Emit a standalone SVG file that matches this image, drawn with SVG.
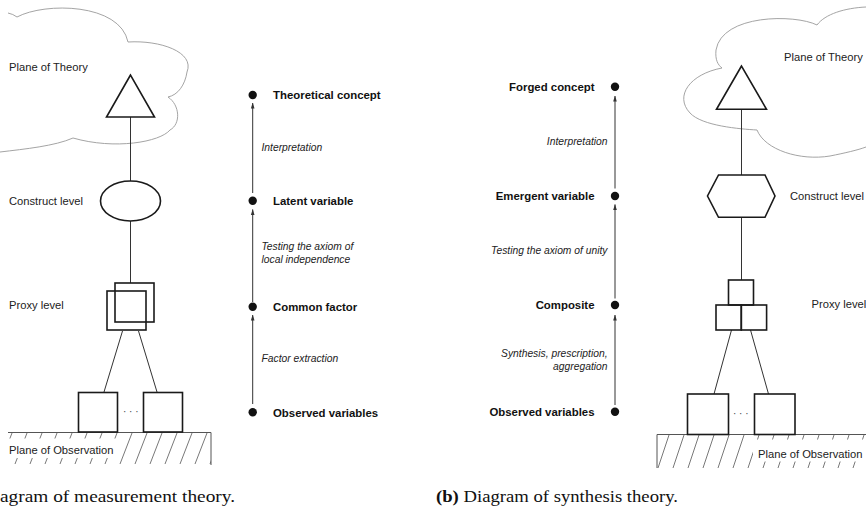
<svg xmlns="http://www.w3.org/2000/svg" width="866" height="510" viewBox="0 0 866 510">
<style>
.cloud{fill:none;stroke:#9a9a9a;stroke-width:0.9}
.shape{fill:none;stroke:#1a1a1a;stroke-width:1.6}
.conn{fill:none;stroke:#333;stroke-width:1}
.arr{fill:none;stroke:#333;stroke-width:1}
.dot{fill:#111}
.lvl{font-family:"Liberation Sans",Arial,sans-serif;font-size:11.2px;fill:#222}
.bold{font-family:"Liberation Sans",Arial,sans-serif;font-size:11.4px;font-weight:bold;fill:#111}
.ital{font-family:"Liberation Sans",Arial,sans-serif;font-size:10.3px;font-style:italic;fill:#222}
.hatch{fill:none;stroke:#555;stroke-width:0.8}
.ground{fill:none;stroke:#555;stroke-width:1}
.cap{font-family:"Liberation Serif","Times New Roman",serif;font-size:17px;fill:#111}
.dots{font-family:"Liberation Sans",Arial,sans-serif;font-size:10px;fill:#444}
</style>
<defs>
<marker id="ah" viewBox="0 0 6 6" refX="5.5" refY="3" markerWidth="6" markerHeight="6" markerUnits="userSpaceOnUse" orient="auto">
<path d="M0,1.2 L6,3 L0,4.8 Z" fill="#333"/>
</marker>
<clipPath id="clipL"><rect x="8" y="432" width="203" height="33"/></clipPath>
<clipPath id="clipR"><rect x="657" y="434" width="209" height="35"/></clipPath>
</defs>

<rect width="866" height="510" fill="#fff"/>

<!-- Panel (a) -->
<g id="cloud-a">
<path class="cloud" d="M8,13 Q13,14 17,17 C45,2 120,3 128,42 C160,40 195,52 187,72 C185,85 178,95 168,97 C180,105 181,124 170,130 C160,142 115,150 73,138 C55,146 25,149 0,152"/>
<text class="lvl" x="9" y="71">Plane of Theory</text>
</g>
<g id="ground-a">
<g clip-path="url(#clipL)">
<path class="hatch" d="M0,464 L12,433 M15,464 L27,433 M30,464 L42,433 M45,464 L57,433 M60,464 L72,433 M75,464 L87,433 M90,464 L102,433 M105,464 L117,433 M120,464 L132,433 M135,464 L147,433 M150,464 L162,433 M165,464 L177,433 M180,464 L192,433 M195,464 L207,433 M210,464 L222,433"/>
</g>
<rect x="6" y="438.5" width="112" height="19.5" fill="#fff"/>
<path class="ground" d="M8,432.5 L211,432.5 L211,465"/>
<text class="lvl" x="9" y="454">Plane of Observation</text>
</g>

<g id="connectors-a">
<line class="conn" x1="130.5" y1="117" x2="130.5" y2="181"/>
<line class="conn" x1="130.5" y1="221" x2="130.5" y2="283"/>
<line class="conn" x1="122.5" y1="331" x2="104" y2="392"/>
<line class="conn" x1="138.5" y1="331" x2="157" y2="392"/>
</g>

<g id="theoretical-a">
<polygon class="shape" points="130.5,75 106.5,117 154.5,117"/>
</g>
<g id="latent-a">
<ellipse class="shape" cx="130.5" cy="201" rx="30" ry="20"/>
<text class="lvl" x="9" y="205">Construct level</text>
</g>
<g id="proxy-a">
<rect class="shape" x="115" y="283" width="39" height="39"/>
<rect class="shape" x="107" y="291" width="39" height="39"/>
<text class="lvl" x="9" y="309">Proxy level</text>
</g>
<g id="observed-a">
<rect class="shape" x="78.5" y="392.5" width="39" height="39.5"/>
<rect class="shape" x="143.5" y="392.5" width="39" height="39.5"/>
<text class="dots" x="123" y="415">· · ·</text>
</g>

<g id="levels-a">
<circle class="dot" cx="252.7" cy="95" r="4.2"/>
<circle class="dot" cx="252.7" cy="200.7" r="4.2"/>
<circle class="dot" cx="252.7" cy="306.7" r="4.2"/>
<circle class="dot" cx="252.7" cy="412.3" r="4.2"/>
<text class="bold" x="273" y="99">Theoretical concept</text>
<text class="bold" x="273" y="205">Latent variable</text>
<text class="bold" x="273" y="311">Common factor</text>
<text class="bold" x="273" y="416.5">Observed variables</text>
<text class="ital" x="261.5" y="151">Interpretation</text>
<text class="ital" x="261.5" y="249.5">Testing the axiom of</text>
<text class="ital" x="261.5" y="263">local independence</text>
<text class="ital" x="261.5" y="362">Factor extraction</text>
</g>
<g id="arrows-a">
<line class="arr" x1="252.7" y1="404" x2="252.7" y2="315" marker-end="url(#ah)"/>
<line class="arr" x1="252.7" y1="302" x2="252.7" y2="209.5" marker-end="url(#ah)"/>
<line class="arr" x1="252.7" y1="193" x2="252.7" y2="103" marker-end="url(#ah)"/>
</g>

<text class="cap" x="0" y="502" textLength="235" lengthAdjust="spacingAndGlyphs">agram of measurement theory.</text>

<!-- Panel (b) -->
<g id="cloud-b">
<path class="cloud" d="M866,7 C845,8 825,14 817,25 C795,14 722,14 716,50 C715,60 718,65 722,68 C690,74 674,96 690,113 C702,126 740,129 757,130 C765,150 800,161 830,156 C845,153 858,150 866,147"/>
<text class="lvl" x="784" y="61">Plane of Theory</text>
</g>
<g id="ground-b">
<g clip-path="url(#clipR)">
<path class="hatch" d="M658,468 L669,435 M673,468 L684,435 M688,468 L699,435 M703,468 L714,435 M718,468 L729,435 M733,468 L744,435 M748,468 L759,435 M763,468 L774,435 M778,468 L789,435 M793,468 L804,435 M808,468 L819,435 M823,468 L834,435 M838,468 L849,435 M853,468 L864,435 M868,468 L879,435"/>
</g>
<rect x="753" y="439.5" width="113" height="22" fill="#fff"/>
<path class="ground" d="M657,468 L657,434.5 L866,434.5"/>
<text class="lvl" x="758" y="457.5">Plane of Observation</text>
</g>

<g id="connectors-b">
<line class="conn" x1="741.5" y1="109" x2="741.5" y2="175"/>
<line class="conn" x1="741.5" y1="217" x2="741.5" y2="280"/>
<line class="conn" x1="731.5" y1="330" x2="714" y2="394"/>
<line class="conn" x1="750.5" y1="330" x2="768.5" y2="394"/>
</g>

<g id="forged-b">
<polygon class="shape" points="741.5,66 716.5,109.3 766.5,109.3"/>
</g>
<g id="emergent-b">
<polygon class="shape" points="718.5,175 765,175 775,196 765,217.3 718.5,217.3 707.5,196"/>
<text class="lvl" x="790" y="200">Construct level</text>
</g>
<g id="composite-b">
<rect class="shape" x="728.5" y="280" width="25" height="25"/>
<rect class="shape" x="716" y="305" width="25.3" height="25"/>
<rect class="shape" x="741.3" y="305" width="25.3" height="25"/>
<text class="lvl" x="811.5" y="308">Proxy level</text>
</g>
<g id="observed-b">
<rect class="shape" x="687.5" y="394" width="41" height="40.5"/>
<rect class="shape" x="754.5" y="394" width="40.5" height="40.5"/>
<text class="dots" x="733" y="417">· · ·</text>
</g>

<g id="levels-b">
<circle class="dot" cx="615" cy="86.7" r="4.2"/>
<circle class="dot" cx="615" cy="196" r="4.2"/>
<circle class="dot" cx="615" cy="305" r="4.2"/>
<circle class="dot" cx="615" cy="411.7" r="4.2"/>
<text class="bold" x="594.5" y="90.5" text-anchor="end">Forged concept</text>
<text class="bold" x="594.5" y="200" text-anchor="end">Emergent variable</text>
<text class="bold" x="594.5" y="309" text-anchor="end">Composite</text>
<text class="bold" x="594.5" y="415.5" text-anchor="end">Observed variables</text>
<text class="ital" x="607.5" y="144.5" text-anchor="end">Interpretation</text>
<text class="ital" x="607.5" y="253.5" text-anchor="end">Testing the axiom of unity</text>
<text class="ital" x="607.5" y="356.5" text-anchor="end">Synthesis, prescription,</text>
<text class="ital" x="607.5" y="369.5" text-anchor="end">aggregation</text>
</g>
<g id="arrows-b">
<line class="arr" x1="615" y1="405" x2="615" y2="315" marker-end="url(#ah)"/>
<line class="arr" x1="615" y1="298.5" x2="615" y2="204.5" marker-end="url(#ah)"/>
<line class="arr" x1="615" y1="188.5" x2="615" y2="96" marker-end="url(#ah)"/>
</g>

<text class="cap" x="436" y="502" textLength="242" lengthAdjust="spacingAndGlyphs"><tspan font-weight="bold">(b)</tspan> Diagram of synthesis theory.</text>
</svg>
